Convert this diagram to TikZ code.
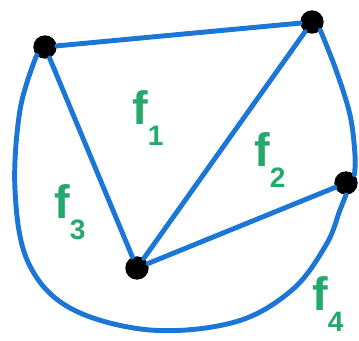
\documentclass[tikz,border=0pt]{standalone}
\usepackage{fontspec}
\setmainfont{Liberation Sans}
\usetikzlibrary{calc}
\definecolor{penblue}{RGB}{28,118,214}
\definecolor{pengreen}{RGB}{36,168,108}
\newcommand{\facelabel}[1]{f\raisebox{-0.45em}{\fontsize{24}{24}\selectfont #1}}
\tikzset{
  vertex/.style={circle, fill=black, inner sep=0pt, minimum size=0.7cm},
  edgeline/.style={draw=penblue, line width=4.2pt, line cap=round, line join=round},
  face/.style={text=pengreen, font=\fontsize{40}{40}\selectfont\bfseries, inner sep=0pt}
}
\begin{document}
\begin{tikzpicture}[x=0.03cm,y=-0.03cm]
  \useasboundingbox (0,0) rectangle (359,341);
  % vertices
  \node[vertex] (a) at (45,47) {};
  \node[vertex] (b) at (312,22) {};
  \node[vertex] (c) at (346,183) {};
  \node[vertex] (d) at (137,268) {};
  % edges
  \draw[edgeline] (a) -- (b);
  \draw[edgeline] (a) -- (d);
  \draw[edgeline] (b) -- (d);
  \draw[edgeline] (d) -- (c);
  \draw[edgeline] plot[smooth, tension=0.6] coordinates
    {(b.south east) (336,70) (350,115) (355,155) (c.north east)};
  \draw[edgeline] plot[smooth, tension=0.6] coordinates
    {(a.south west) (20,110) (15,190) (28,262) (70,308) (150,330)
     (235,322) (292,290) (326,245) (340,210) (c.south)};
  % faces
  \node[face] (f1) at (148,118) {\facelabel{1}};
  \node[face] (f2) at (270,160) {\facelabel{2}};
  \node[face] (f3) at (70,212) {\facelabel{3}};
  \node[face] (f4) at (328,304) {\facelabel{4}};
\end{tikzpicture}
\end{document}
